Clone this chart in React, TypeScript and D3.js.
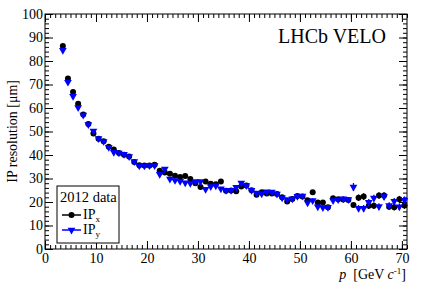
import { useEffect, useRef } from 'react';
import * as d3 from 'd3';

// bin centres in p [GeV/c]
const P = [
  3.5, 4.5, 5.5, 6.5, 7.5, 8.5, 9.5, 10.5, 11.5, 12.5, 13.5, 14.5, 15.5, 16.5, 17.5, 18.5, 19.5,
  20.5, 21.5, 22.5, 23.5, 24.5, 25.5, 26.5, 27.5, 28.5, 29.5, 30.5, 31.5, 32.5, 33.5, 34.5, 35.5,
  36.5, 37.5, 38.5, 39.5, 40.5, 41.5, 42.5, 43.5, 44.5, 45.5, 46.5, 47.5, 48.5, 49.5, 50.5, 51.5,
  52.5, 53.5, 54.5, 55.5, 56.5, 57.5, 58.5, 59.5, 60.5, 61.5, 62.5, 63.5, 64.5, 65.5, 66.5, 67.5,
  68.5, 69.5, 70.5
];

const IP_X = [
  86.4, 72.6, 66.8, 61.8, 57.2, 53.2, 49.2, 46.9, 45.8, 43.5, 42.3, 40.8, 40.1, 39.4, 37.0, 35.6, 35.5,
  35.5, 35.8, 33.3, 32.6, 32.0, 31.2, 30.6, 31.1, 29.8, 28.0, 26.4, 28.7, 27.8, 27.6, 28.7, 24.8,
  24.9, 24.6, 26.6, 27.0, 25.0, 23.1, 24.2, 23.6, 23.6, 23.4, 22.0, 20.2, 21.3, 22.6, 22.3, 20.7,
  24.1, 19.8, 19.8, 17.8, 21.6, 21.2, 21.1, 20.8, 18.7, 21.8, 22.3, 18.4, 18.4, 22.8, 22.8, 18.0,
  17.8, 21.2, 18.5
];

const IP_Y = [
  84.6, 71.0, 65.0, 60.2, 57.0, 53.0, 50.2, 47.0, 45.8, 43.3, 41.2, 40.9, 40.3, 39.4, 37.2, 35.4, 35.4,
  35.5, 35.5, 31.8, 34.0, 29.8, 29.2, 28.8, 28.2, 28.0, 28.7, 28.7, 25.4, 26.6, 26.9, 25.6, 25.0,
  25.0, 26.3, 28.1, 27.0, 25.0, 23.8, 23.5, 24.4, 24.3, 23.4, 21.8, 21.1, 21.4, 22.4, 22.6, 19.7,
  20.6, 18.0, 17.7, 17.8, 20.6, 21.0, 21.4, 21.1, 26.4, 17.3, 17.3, 19.9, 21.7, 18.1, 22.3, 18.5,
  20.3, 18.0, 20.8
];

const ERR_X = [
  0.3, 0.3, 0.3, 0.3, 0.3, 0.3, 0.3, 0.3, 0.3, 0.3, 0.3, 0.3, 0.3, 0.3, 0.3, 0.3, 0.3,
  0.3, 0.4, 0.4, 0.4, 0.4, 0.4, 0.4, 0.4, 0.4, 0.4, 0.4, 0.4, 0.4, 0.4, 0.4, 0.4,
  0.4, 0.4, 0.4, 0.4, 0.4, 0.6, 0.6, 0.6, 0.6, 0.6, 0.6, 0.6, 0.6, 0.6, 0.6, 0.9,
  0.9, 0.9, 0.9, 0.9, 0.9, 0.9, 0.9, 0.9, 0.9, 1.4, 1.4, 1.4, 1.4, 1.4, 1.4, 1.4,
  1.4, 1.4, 1.4
];

const ERR_Y = [
  0.3, 0.3, 0.3, 0.3, 0.3, 0.3, 0.3, 0.3, 0.3, 0.3, 0.3, 0.3, 0.3, 0.3, 0.3, 0.3, 0.3,
  0.3, 0.4, 0.4, 0.4, 0.4, 0.4, 0.4, 0.4, 0.4, 0.4, 0.4, 0.4, 0.4, 0.4, 0.4, 0.4,
  0.4, 0.4, 0.4, 0.4, 0.4, 0.6, 0.6, 0.6, 0.6, 0.6, 0.6, 0.6, 0.6, 0.6, 0.6, 0.9,
  0.9, 0.9, 0.9, 0.9, 0.9, 0.9, 0.9, 0.9, 1.7, 1.4, 1.4, 1.4, 1.4, 1.4, 1.4, 1.4,
  1.4, 1.4, 1.6
];

const X_TICKS = [0, 10, 20, 30, 40, 50, 60, 70];
const Y_TICKS = [0, 10, 20, 30, 40, 50, 60, 70, 80, 90, 100];

const W = 427;
const H = 290;
const FONT = '"Liberation Serif", "DejaVu Serif", serif';
const BLUE = '#0000ff';

const App = () => {
  const svgRef = useRef<SVGSVGElement>(null);

  useEffect(() => {
    const root = d3.select(svgRef.current);
    root.selectAll('*').remove();

    const margin = { top: 14, right: 20, bottom: 41, left: 45 };
    const width = W - margin.left - margin.right;
    const height = H - margin.top - margin.bottom;

    const svg = root.append('g')
      .attr('transform', `translate(${margin.left},${margin.top})`);

    const x = d3.scaleLinear().domain([0, 71]).range([0, width]);
    const y = d3.scaleLinear().domain([0, 100]).range([height, 0]);

    const xMinor = d3.range(0, 72, 1);
    const yMinor = d3.range(0, 101, 2);

    const styleAxis = (g: any) => {
      g.attr('font-family', FONT).attr('font-size', 14);
      g.select('.domain').remove();
      g.selectAll('line').attr('stroke', '#000');
      g.selectAll('text')
        .attr('font-family', FONT)
        .attr('font-size', '14px')
        .attr('fill', '#000');
    };

    // minor ticks, all four sides
    svg.append('g').attr('transform', `translate(0,${height})`)
      .call(d3.axisBottom(x).tickValues(xMinor).tickSize(-4).tickFormat(() => ''))
      .call(styleAxis);
    svg.append('g')
      .call(d3.axisTop(x).tickValues(xMinor).tickSize(-4).tickFormat(() => ''))
      .call(styleAxis);
    svg.append('g')
      .call(d3.axisLeft(y).tickValues(yMinor).tickSize(-4).tickFormat(() => ''))
      .call(styleAxis);
    svg.append('g').attr('transform', `translate(${width},0)`)
      .call(d3.axisRight(y).tickValues(yMinor).tickSize(-4).tickFormat(() => ''))
      .call(styleAxis);

    // major ticks + labels
    svg.append('g').attr('transform', `translate(0,${height})`)
      .call(d3.axisBottom(x).tickValues(X_TICKS).tickSize(-8).tickPadding(4).tickFormat(d3.format('d')))
      .call(styleAxis);
    svg.append('g')
      .call(d3.axisTop(x).tickValues(X_TICKS).tickSize(-8).tickFormat(() => ''))
      .call(styleAxis);
    svg.append('g')
      .call(d3.axisLeft(y).tickValues(Y_TICKS).tickSize(-8).tickPadding(2).tickFormat(d3.format('d')))
      .call(styleAxis);
    svg.append('g').attr('transform', `translate(${width},0)`)
      .call(d3.axisRight(y).tickValues(Y_TICKS).tickSize(-8).tickFormat(() => ''))
      .call(styleAxis);

    // frame
    svg.append('rect')
      .attr('x', 0).attr('y', 0)
      .attr('width', width).attr('height', height)
      .attr('fill', 'none')
      .attr('stroke', '#000')
      .attr('stroke-width', 1);

    const addSeries = (vals: number[], errs: number[], color: string, marker: 'circle' | 'tri') => {
      const data = P.map((p, i) => ({ p, v: vals[i], e: errs[i] }));
      const g = svg.append('g');
      g.selectAll(null).data(data).enter().append('line')
        .attr('x1', d => x(d.p)).attr('x2', d => x(d.p))
        .attr('y1', d => y(d.v - d.e)).attr('y2', d => y(d.v + d.e))
        .attr('stroke', color).attr('stroke-width', 1.3);
      if (marker === 'circle') {
        g.selectAll(null).data(data).enter().append('circle')
          .attr('cx', d => x(d.p)).attr('cy', d => y(d.v))
          .attr('r', 3).attr('fill', color);
      } else {
        const tri = d3.symbol().type(d3.symbolTriangle).size(26);
        g.selectAll(null).data(data).enter().append('path')
          .attr('d', tri() as string)
          .attr('transform', d => `translate(${x(d.p)},${y(d.v)}) rotate(180)`)
          .attr('fill', color);
      }
    };

    addSeries(IP_X, ERR_X, '#000', 'circle');
    addSeries(IP_Y, ERR_Y, BLUE, 'tri');

    // LHCb label
    svg.append('text')
      .attr('x', 341).attr('y', 29)
      .attr('text-anchor', 'end')
      .attr('font-family', FONT)
      .attr('font-size', '20px')
      .text('LHCb VELO');

    // legend
    const leg = root.append('g').attr('transform', 'translate(57,186)');
    leg.append('rect')
      .attr('width', 62).attr('height', 57)
      .attr('fill', '#fff').attr('stroke', '#000').attr('stroke-width', 1);
    leg.append('text')
      .attr('x', 3).attr('y', 16)
      .attr('font-family', FONT).attr('font-size', '14.5px')
      .text('2012 data');
    const entries = [
      { label: 'IP', sub: 'x', color: '#000', marker: 'circle', yy: 29 },
      { label: 'IP', sub: 'y', color: BLUE, marker: 'tri', yy: 44 }
    ];
    entries.forEach(item => {
      leg.append('line')
        .attr('x1', 5).attr('x2', 24)
        .attr('y1', item.yy).attr('y2', item.yy)
        .attr('stroke', item.color).attr('stroke-width', 1.5);
      if (item.marker === 'circle') {
        leg.append('circle').attr('cx', 14.5).attr('cy', item.yy).attr('r', 3).attr('fill', item.color);
      } else {
        leg.append('path')
          .attr('d', d3.symbol().type(d3.symbolTriangle).size(26)() as string)
          .attr('transform', `translate(14.5,${item.yy}) rotate(180)`)
          .attr('fill', item.color);
      }
      const t = leg.append('text')
        .attr('x', 26).attr('y', item.yy + 4)
        .attr('font-family', FONT).attr('font-size', '14px');
      t.append('tspan').text(item.label);
      t.append('tspan').attr('font-size', '9px').attr('dy', 3).text(item.sub);
    });

    // axis titles
    const xt = root.append('text')
      .attr('x', 406).attr('y', 279)
      .attr('text-anchor', 'end')
      .attr('font-family', FONT).attr('font-size', '14px');
    xt.append('tspan').attr('font-style', 'italic').text('p');
    xt.append('tspan').text('\u00a0\u00a0[GeV ');
    xt.append('tspan').attr('font-style', 'italic').text('c');
    xt.append('tspan').attr('font-size', '9px').attr('dy', -5).text('-1');
    xt.append('tspan').attr('dy', 5).text(']');

    root.append('text')
      .attr('transform', 'translate(17,80) rotate(-90)')
      .attr('text-anchor', 'end')
      .attr('font-family', FONT).attr('font-size', '14px')
      .text('IP resolution [\u03bcm]');
  }, []);

  return (
    <svg
      ref={svgRef}
      width={W}
      height={H}
      style={{ position: 'absolute', left: 0, top: 0, background: '#fff' }}
    />
  );
};

export default App;
